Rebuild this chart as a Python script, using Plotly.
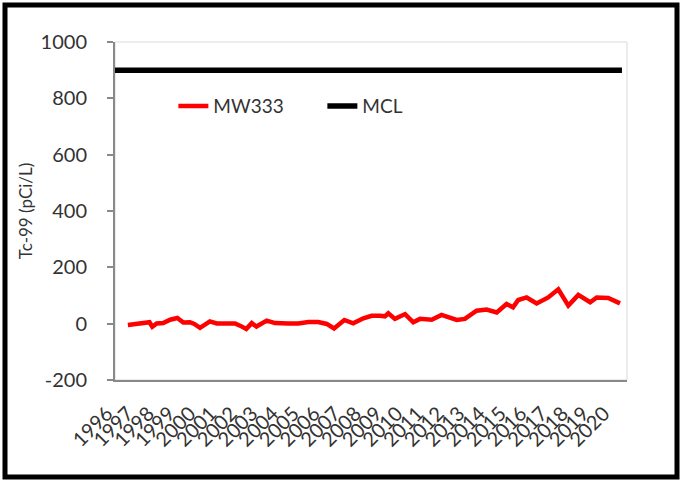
import plotly.graph_objects as go

# Sample dates (approximate) and Tc-99 concentrations for MW333
mw333_dates = [
    "1996-08-15", "1997-03-15", "1997-09-01", "1997-10-20", "1998-01-05",
    "1998-05-01", "1998-09-01", "1999-01-05", "1999-04-20", "1999-08-15",
    "1999-11-01", "2000-02-10", "2000-05-10", "2000-08-01", "2000-12-01",
    "2001-03-25", "2001-07-20", "2001-10-20", "2002-01-15", "2002-05-05",
    "2002-08-10", "2002-11-01", "2003-05-01", "2003-09-25", "2004-05-15",
    "2004-11-10", "2005-05-05", "2005-10-25", "2006-03-25", "2006-08-01",
    "2007-01-30", "2007-07-05", "2008-01-01", "2008-05-25", "2008-10-20",
    "2009-01-15", "2009-03-15", "2009-07-10", "2010-01-05", "2010-05-30",
    "2010-09-25", "2011-04-20", "2011-10-10", "2012-03-05", "2012-07-05",
    "2012-11-25", "2013-06-20", "2013-12-15", "2014-06-10", "2014-12-01",
    "2015-03-25", "2015-06-25", "2015-11-20", "2016-05-15", "2016-12-05",
    "2017-06-01", "2017-11-25", "2018-05-20", "2018-12-15", "2019-04-10",
    "2019-10-30", "2020-05-25",
]
mw333_values = [
    -5, 1, 5, -11, 1,
    2, 14, 20, 4, 5,
    -1, -15, -4, 8, 1,
    1, -2, 1, -7, -19,
    2, -10, 11, 2, 1,
    1, 6, 6, -1, -17,
    13, 1, 19, 28, 28,
    26, 37, 17, 34, 5,
    17, 14, 31, 22, 13,
    17, 46, 50, 40, 70,
    58, 84, 93, 72, 93,
    122, 64, 102, 76, 93,
    91, 72,
]

mcl_dates = ["1996-01-01", "2020-06-28"]
mcl_values = [900, 900]

y_ticks = [-200, 0, 200, 400, 600, 800, 1000]
y_tick_labels = ["-200", "0", "200", "400", "600", "800", "1000"]

FONT = "Lato, 'Open Sans', sans-serif"
TXT = "#333333"

fig = go.Figure()
fig.add_trace(go.Scatter(
    x=mw333_dates, y=mw333_values, mode="lines", name="MW333",
    line=dict(color="#ff0000", width=4.5),
))
fig.add_trace(go.Scatter(
    x=mcl_dates, y=mcl_values, mode="lines", name="MCL",
    line=dict(color="#000000", width=5.5),
))

# plot-area light border (top/right)
fig.add_shape(type="rect", xref="paper", yref="paper", x0=0, x1=1, y0=0, y1=1,
              line=dict(color="#d9d9d9", width=1), layer="below")
# outer thick frame
fig.add_shape(type="rect", xref="paper", yref="paper",
              x0=(5 - 115) / 512, x1=(677 - 115) / 512,
              y0=(380 - 477) / 338, y1=(380 - 5) / 338,
              line=dict(color="#000000", width=5))

fig.update_layout(
    width=683, height=482,
    margin=dict(l=115, r=56, t=42, b=102),
    paper_bgcolor="white", plot_bgcolor="white",
    font=dict(family=FONT, color=TXT, size=20),
    showlegend=True,
    legend=dict(
        orientation="h", x=0.114, y=0.81, xanchor="left", yanchor="middle",
        bgcolor="rgba(0,0,0,0)", font=dict(size=19, color=TXT),
        entrywidth=104, entrywidthmode="pixels",
    ),
    xaxis=dict(
        type="date", range=["1996-01-01", "2020-09-25"],
        tick0="1996-01-01", dtick="M12", tickformat="%Y",
        tickangle=-45, showgrid=False, zeroline=False,
        showline=True, linecolor="#898989", linewidth=2,
        ticks="", tickfont=dict(size=20, color=TXT),
        ticklabelshift=-8, ticklabelstandoff=12,
    ),
    yaxis=dict(
        range=[-200, 1000], tickvals=y_ticks, ticktext=y_tick_labels,
        showgrid=False, zeroline=False,
        showline=True, linecolor="#898989", linewidth=2,
        ticks="outside", ticklen=6, tickwidth=2, tickcolor="#898989",
        tickfont=dict(size=20, color=TXT), ticklabelstandoff=16,
        title=dict(text="Tc-99 (pCi/L)", font=dict(size=17, color=TXT), standoff=4),
    ),
)

fig.write_html(
    "out.html",
    config={"displayModeBar": False},
    post_script="document.body.style.margin='0';document.body.style.overflow='hidden';",
)
